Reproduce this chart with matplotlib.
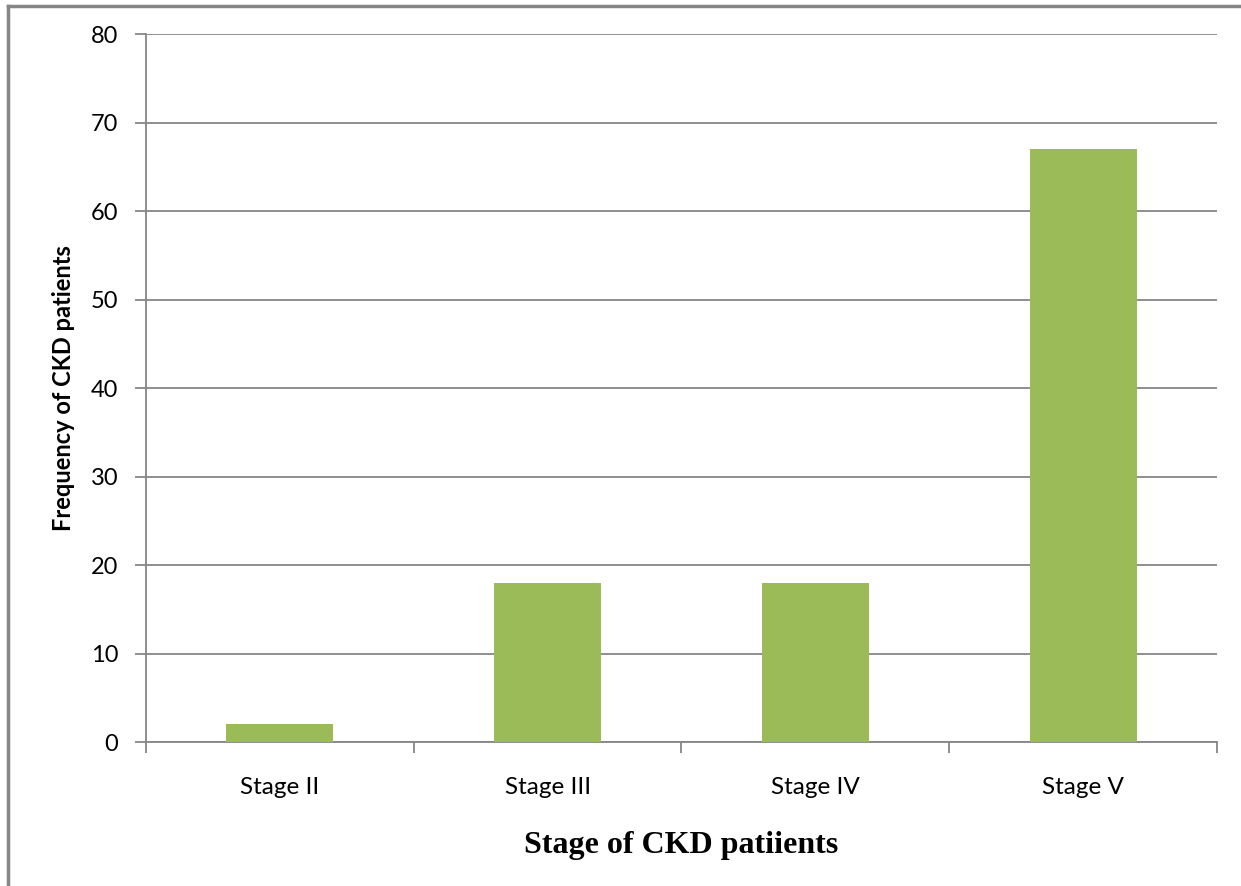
import numpy as np
import matplotlib.pyplot as plt
from matplotlib.lines import Line2D

stages = ["Stage II", "Stage III", "Stage IV", "Stage V"]
frequency = [2, 18, 18, 67]
y_ticks = [0, 10, 20, 30, 40, 50, 60, 70, 80]

grey = "#868686"
green = "#9BBB59"

fig = plt.figure(figsize=(12.41, 8.86), dpi=100)
ax = fig.add_axes([0.1176, 0.1625, 0.8631, 0.7991])

x = np.arange(len(stages))
ax.bar(x, frequency, width=0.4, color=green, zorder=3)

ax.set_xlim(-0.5, len(stages) - 0.5)
ax.set_ylim(0, 80)
ax.set_yticks(y_ticks)
ax.yaxis.grid(True, color=grey, linewidth=1.3, zorder=0)

# category boundary ticks, labels centred under bars
ax.set_xticks(np.arange(-0.5, len(stages)), minor=False)
ax.set_xticklabels([])
ax.set_xticks(x, minor=True)
ax.set_xticklabels(stages, minor=True, fontsize=17.5, family="Lato")
ax.tick_params(axis="x", which="major", length=8, width=1.3, color=grey, direction="out")
ax.tick_params(axis="x", which="minor", length=0, pad=25)
ax.tick_params(axis="y", length=8, width=1.3, color=grey, direction="out", pad=12)
for lbl in ax.get_yticklabels():
    lbl.set_fontsize(17)
    lbl.set_family("Lato")

for side in ["top", "right"]:
    ax.spines[side].set_visible(False)
for side in ["left", "bottom"]:
    ax.spines[side].set_color(grey)
    ax.spines[side].set_linewidth(1.3)

ax.set_ylabel("Frequency of CKD patients", fontsize=17, fontweight="bold",
              family="Lato", labelpad=11)
ax.set_xlabel("Stage of CKD patiients", fontsize=23, fontweight="bold",
              family="Liberation Serif", labelpad=24)

# chart-area border (only top and left edges visible in the crop)
fig.add_artist(Line2D([8 / 1241, 8 / 1241], [0, 1 - 6 / 886], color=grey, linewidth=2.5,
                      transform=fig.transFigure))
fig.add_artist(Line2D([8 / 1241, 1], [1 - 6 / 886, 1 - 6 / 886], color=grey, linewidth=2.5,
                      transform=fig.transFigure))

fig.savefig("out.png", dpi=100)
